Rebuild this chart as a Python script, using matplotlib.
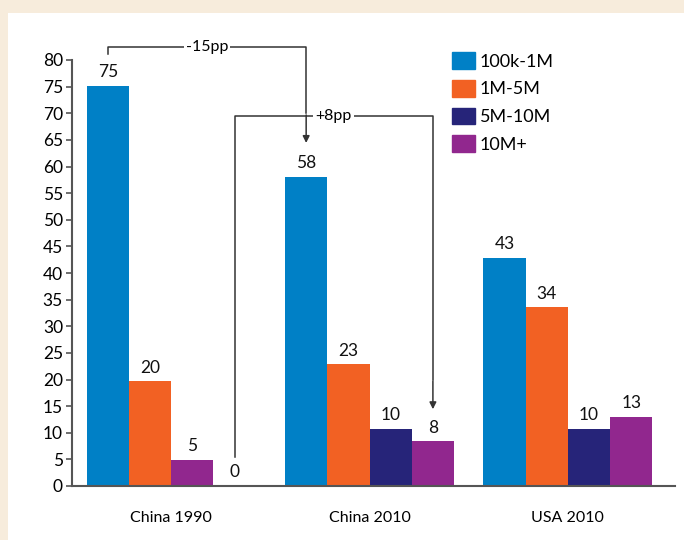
import matplotlib
matplotlib.use("Agg")
import matplotlib.pyplot as plt
import matplotlib.patches as mpatches
import numpy as np

plt.rcParams['font.family'] = ['Lato', 'DejaVu Sans']

# data
groups = ['China 1990', 'China 2010', 'USA 2010']
series = ['100k-1M', '1M-5M', '5M-10M', '10M+']
colors = {'100k-1M': '#0080C6', '1M-5M': '#F26123', '5M-10M': '#262479', '10M+': '#91278E'}

# bar slots within each group (China 1990 is drawn blue, orange, purple, then an empty "0")
slot_series = [
    ['100k-1M', '100k-1M', '100k-1M'],
    ['1M-5M', '1M-5M', '1M-5M'],
    ['10M+', '5M-10M', '5M-10M'],
    ['5M-10M', '10M+', '10M+'],
]
slot_heights = [
    [75.2, 58.1, 42.9],
    [19.7, 22.9, 33.6],
    [4.9, 10.7, 10.7],
    [0.0, 8.4, 13.0],
]
slot_labels = [
    ['75', '58', '43'],
    ['20', '23', '34'],
    ['5', '10', '10'],
    ['0', '8', '13'],
]

fig = plt.figure(figsize=(6.84, 5.4), dpi=100)
fig.patch.set_facecolor('#F7ECDC')
# white panel
fig.add_artist(mpatches.Rectangle((8 / 684, 0), 1, 1 - 13 / 540, transform=fig.transFigure,
                                  facecolor='white', edgecolor='none', zorder=0))

ax = fig.add_axes([72 / 684, 54 / 540, (675 - 72) / 684, (486 - 60) / 540])
ax.set_facecolor('none')

x = np.arange(len(groups))
w = 0.213
offsets = [-1.5 * w, -0.5 * w, 0.5 * w, 1.5 * w]

for s in range(4):
    cols = [colors[k] for k in slot_series[s]]
    pos = x + offsets[s]
    ax.bar(pos, slot_heights[s], width=w, color=cols, edgecolor='none', zorder=2)
    for xi, h, lab in zip(pos, slot_heights[s], slot_labels[s]):
        ax.annotate(lab, (xi, h), xytext=(0, 4), textcoords='offset points',
                    ha='center', va='bottom', fontsize=12.5, color='#111111')

ax.set_xlim(-0.5, 2.54)
ax.set_ylim(0, 80)
ax.set_yticks(range(0, 81, 5))
ax.set_xticks(x)
ax.set_xticklabels(groups, fontsize=11.5)
ax.tick_params(axis='x', length=0, pad=18)
ax.tick_params(axis='y', length=4.5, width=1.2, color='#555555', labelsize=12.5, pad=2)
for side in ['top', 'right']:
    ax.spines[side].set_visible(False)
for side in ['left', 'bottom']:
    ax.spines[side].set_color('#555555')
    ax.spines[side].set_linewidth(1.5)

# change brackets
lc = '#333333'
x_a0, x_a1 = x[0] + offsets[0], x[1] + offsets[0]
ax.plot([x_a0, x_a0, x_a1, x_a1], [81.2, 82.5, 82.5, 70], color=lc, lw=1.1, clip_on=False, zorder=3)
ax.annotate('', xy=(x_a1, 63.9), xytext=(x_a1, 70.2),
            arrowprops=dict(arrowstyle='-|>', color=lc, lw=1.1, mutation_scale=10), annotation_clip=False)
ax.text((x_a0 + x_a1) / 2, 82.5, '-15pp', ha='center', va='center', fontsize=11.5,
        bbox=dict(facecolor='white', edgecolor='none', pad=1.5), zorder=4, clip_on=False)

x_b0, x_b1 = x[0] + offsets[3], x[1] + offsets[3]
ax.plot([x_b0, x_b0, x_b1, x_b1], [5.4, 69.5, 69.5, 20], color=lc, lw=1.1, zorder=3)
ax.annotate('', xy=(x_b1, 13.9), xytext=(x_b1, 20.2),
            arrowprops=dict(arrowstyle='-|>', color=lc, lw=1.1, mutation_scale=10))
ax.text((x_b0 + x_b1) / 2, 69.5, '+8pp', ha='center', va='center', fontsize=11.5,
        bbox=dict(facecolor='white', edgecolor='none', pad=1.5), zorder=4)

handles = [mpatches.Patch(color=colors[s], label=s) for s in series]
fig.legend(handles=handles, loc='upper left', bbox_to_anchor=(452 / 684, 1 - 52 / 540),
           frameon=False, fontsize=13, handlelength=1.3, handleheight=1.05,
           handletextpad=0.25, labelspacing=0.57, borderpad=0, borderaxespad=0)

fig.savefig('out.png', dpi=100, facecolor=fig.get_facecolor())
